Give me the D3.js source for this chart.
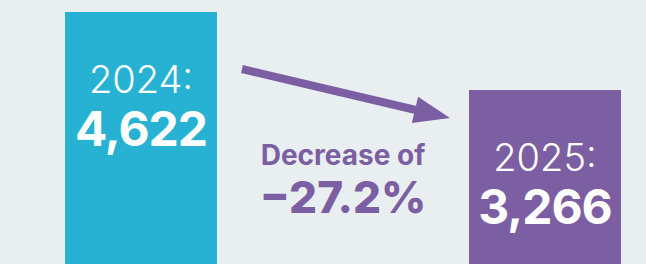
<!DOCTYPE html>
<html>
<head>
<meta charset="utf-8">
<script src="https://cdn.jsdelivr.net/npm/d3@7"></script>
<style>
  html, body { margin: 0; padding: 0; background: #e9eff0; }
  svg { display: block; }
</style>
</head>
<body>
<svg id="chart"></svg>
<script>
// data
var years = ["2024", "2025"];
var counts = [4622, 3266];
var changeLabel = "Decrease of";
var changeValue = "\u221227.2%";

var width = 646;
var height = 264;
var colors = ["#27b2d3", "#7c5fa2"];

var svg = d3.select("#chart")
  .attr("width", width)
  .attr("height", height)
  .style("background", "#e9eff0");

var x = d3.scaleBand()
  .domain(years)
  .range([65, 621])
  .paddingInner(0.6238)
  .paddingOuter(0);

// baseline sits below the visible area
var y = d3.scaleLinear()
  .domain([0, d3.max(counts)])
  .range([278, 12]);

var rows = years.map(function(yr, i){ return {year: yr, count: counts[i], color: colors[i]}; });
var fmt = d3.format(",");

svg.selectAll("rect.bar")
  .data(rows)
  .enter()
  .append("rect")
  .attr("class", "bar")
  .attr("x", function(d){ return x(d.year); })
  .attr("y", function(d){ return y(d.count); })
  .attr("width", x.bandwidth())
  .attr("height", function(d){ return y(0) - y(d.count); })
  .attr("fill", function(d){ return d.color; });

svg.selectAll("text.year")
  .data(rows)
  .enter()
  .append("text")
  .attr("class", "year")
  .attr("x", function(d){ return x(d.year) + x.bandwidth() / 2; })
  .attr("y", function(d){ return y(d.count) + 81; })
  .attr("text-anchor", "middle")
  .style("font-family", "Inter, 'Open Sans', sans-serif")
  .style("font-weight", 300)
  .style("font-size", "38px")
  .style("fill", "#fff")
  .text(function(d){ return d.year + ":"; });

svg.selectAll("text.count")
  .data(rows)
  .enter()
  .append("text")
  .attr("class", "count")
  .attr("x", function(d){ return x(d.year) + x.bandwidth() / 2; })
  .attr("y", function(d){ return y(d.count) + 134; })
  .attr("text-anchor", "middle")
  .style("font-family", "Inter, 'Open Sans', sans-serif")
  .style("font-weight", 700)
  .style("font-size", "48px")
  .style("letter-spacing", "-1px")
  .style("fill", "#fff")
  .text(function(d){ return fmt(d.count); });

// arrow from first bar to second
var x0 = x(years[0]) + x.bandwidth() + 25, y0 = y(counts[0]) + 57;
var x1 = x(years[1]) - 19, y1 = y(counts[1]) + 28;
var ang = Math.atan2(y1 - y0, x1 - x0);
var headLen = 36, headHalf = 13.5;
var bx = x1 - headLen * Math.cos(ang), by = y1 - headLen * Math.sin(ang);
var nx = -Math.sin(ang), ny = Math.cos(ang);

svg.append("line")
  .attr("x1", x0).attr("y1", y0)
  .attr("x2", bx + 2 * Math.cos(ang)).attr("y2", by + 2 * Math.sin(ang))
  .attr("stroke", colors[1])
  .attr("stroke-width", 8);

svg.append("path")
  .attr("d", d3.line()([
    [x1, y1],
    [bx + nx * headHalf, by + ny * headHalf],
    [bx - nx * headHalf, by - ny * headHalf]
  ]) + "Z")
  .attr("fill", colors[1]);

var midX = (x(years[0]) + x.bandwidth() + x(years[1])) / 2;

svg.append("text")
  .attr("x", midX)
  .attr("y", 165)
  .attr("text-anchor", "middle")
  .style("font-family", "Inter, 'Open Sans', sans-serif")
  .style("font-weight", 700)
  .style("font-size", "28px")
  .style("fill", colors[1])
  .text(changeLabel);

svg.append("text")
  .attr("x", midX)
  .attr("y", 213)
  .attr("text-anchor", "middle")
  .style("font-family", "Inter, 'Open Sans', sans-serif")
  .style("font-weight", 800)
  .style("font-size", "44px")
  .style("fill", colors[1])
  .text(changeValue);
</script>
</body>
</html>
